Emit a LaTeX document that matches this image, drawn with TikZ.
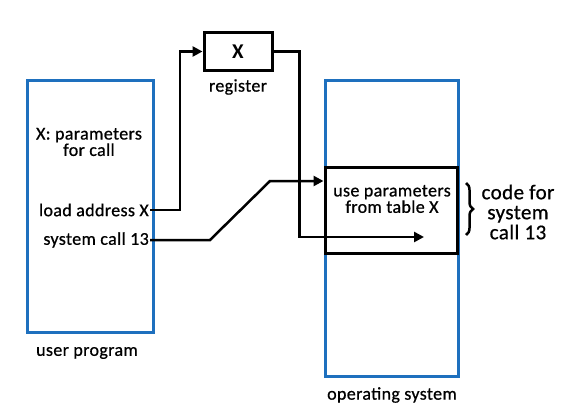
\documentclass[tikz,border=0pt]{standalone}
\usepackage{fontspec}
\setmainfont{Carlito}[LetterSpace=2, BoldFont=Carlito, BoldFeatures={FakeBold=0.7}]
\newfontfamily\strongfont{Carlito Bold}
\usetikzlibrary{arrows.meta,decorations.pathreplacing}
\definecolor{boxblue}{RGB}{30,112,190}
\tikzset{
  bluebox/.style={draw=boxblue, line width=3pt, inner sep=0pt},
  blackbox/.style={draw=black, line width=3pt, inner sep=0pt},
  label/.style={font=\bfseries\fontsize{18}{15}\selectfont, inner sep=1pt},
  arr/.style={line width=2.5pt, -{Triangle[length=10pt,width=10pt]}}
}
\begin{document}
\begin{tikzpicture}[x=1pt,y=-1pt]
  \useasboundingbox[fill=white] (0,0) rectangle (572,404);
  % user program
  \node[bluebox, minimum width=126pt, minimum height=252pt] (user) at (90,206) {};
  \node[label, align=center] (params) at (89,142) {X: parameters\\for call};
  \node[label, anchor=east] (load) at (150,210) {load address X};
  \node[label, anchor=east] (sys) at (150,240) {system call 13};
  \node[label] (usertxt) at (87,353) {user program};
  % register
  \node[blackbox, minimum width=68pt, minimum height=37pt, font=\strongfont\fontsize{21}{15}\selectfont] (reg) at (238,51.5) {X};
  \node[label] (regtxt) at (238,87) {register};
  % operating system
  \node[bluebox, minimum width=133pt, minimum height=296pt] (os) at (391.5,228) {};
  \node[blackbox, minimum width=132pt, minimum height=86pt] (code) at (391,210) {};
  \node[label, align=center] (use) at (392,199) {use parameters\\from table X};
  \node[label] (ostxt) at (392,395) {operating system};
  \draw[line width=2.5pt, decorate, decoration={brace, amplitude=7pt}] (466,183) -- (466,235);
  \node[label, align=center, font=\bfseries\fontsize{21}{20}\selectfont] (codetxt) at (518,212) {code for\\system\\call 13};
  % connectors
  \coordinate (tip) at (424,237);
  \coordinate (bendA) at (210,240);
  \coordinate (bendB) at (270,181);
  \draw[arr] (load.east) -- ++(30,0) |- (reg.west);
  \draw[arr] (reg.east) -- ++(26,0) |- (tip);
  \draw[arr] (sys.east) -- (bendA) -- (bendB) -- (code.west |- bendB);
\end{tikzpicture}
\end{document}
